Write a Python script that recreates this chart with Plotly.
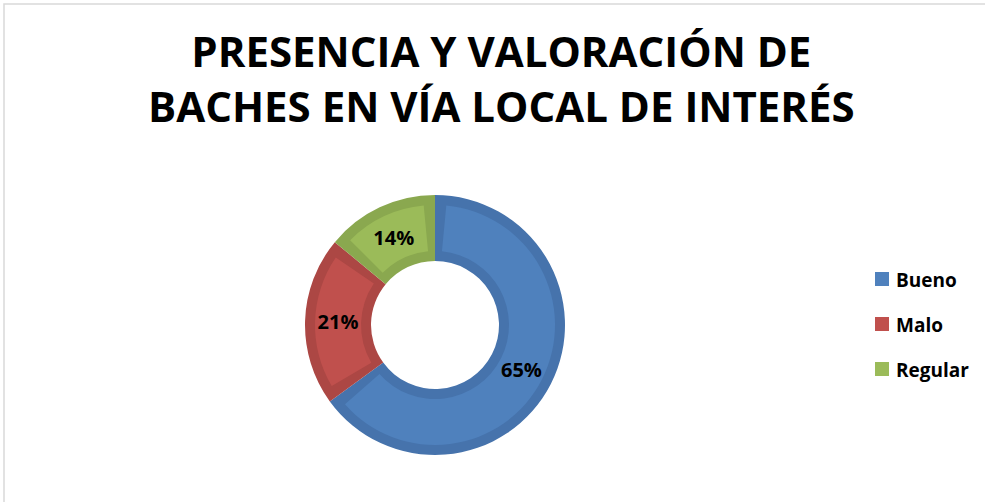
import plotly.graph_objects as go

# Data
categories = ["Bueno", "Malo", "Regular"]
values = [65, 21, 14]
colors = ["#4F81BD", "#C0504D", "#9BBB59"]
edge_colors = ["#4673AC", "#AC4744", "#8AA84F"]
title_lines = ["PRESENCIA Y VALORACIÓN DE", "BACHES EN VÍA LOCAL DE INTERÉS"]

W, H = 985, 502
cx, cy = 435, 325
r_out, r_in, band = 130, 64, 10
gap = 1.5  # value units trimmed from each side of a slice in the light layer

def dom(r):
    return dict(x=[(cx - r) / W, (cx + r) / W], y=[1 - (cy + r) / H, 1 - (cy - r) / H])

# Bottom layer: full slices in the darker edge colour
base = go.Pie(
    labels=categories, values=values, sort=False, direction="clockwise", rotation=0,
    hole=r_in / r_out, marker=dict(colors=edge_colors, line=dict(width=0)),
    textinfo="none", domain=dom(r_out), showlegend=False, hoverinfo="skip",
)

# Middle layer: lighter fill, inset from every edge of its slice
top_vals, top_cols, top_labels = [], [], []
for i, (cat, v, col) in enumerate(zip(categories, values, colors)):
    top_vals += [gap, v - 2 * gap, gap]
    top_cols += ["rgba(0,0,0,0)", col, "rgba(0,0,0,0)"]
    top_labels += [f"_g{i}a", cat, f"_g{i}b"]

r_top = r_out - band
face = go.Pie(
    labels=top_labels, values=top_vals, sort=False, direction="clockwise", rotation=0,
    hole=(r_in + band) / r_top, marker=dict(colors=top_cols, line=dict(width=0)),
    textinfo="none", domain=dom(r_top), showlegend=False, hoverinfo="skip",
)

# Top layer: transparent copy of the full slices carrying the percentage labels
labels_layer = go.Pie(
    labels=categories, values=values, sort=False, direction="clockwise", rotation=0,
    hole=r_in / r_out,
    marker=dict(colors=["rgba(0,0,0,0)"] * len(values), line=dict(width=0)),
    texttemplate="%{percent:.0%}", textposition="inside",
    insidetextorientation="horizontal",
    textfont=dict(family="Open Sans", size=20, color="black", weight="bold"),
    domain=dom(r_out), showlegend=False, hoverinfo="label+percent",
)

fig = go.Figure([base, face, labels_layer])

# Title and custom legend (square swatch + label), built from the lists above
annotations = [dict(
    text="<br>".join(title_lines), xref="paper", yref="paper",
    x=501 / W, y=1 - 78 / H, xanchor="center", yanchor="middle",
    showarrow=False,
    font=dict(family="Open Sans", size=42, color="black", weight="bold"),
)]
shapes = [dict(type="rect", xref="paper", yref="paper",
               x0=4 / W, x1=1.02, y0=-0.02, y1=1 - 4 / H,
               line=dict(color="#D9D9D9", width=1.5))]
leg_x, leg_y0, leg_dy, sq = 875, 279, 45, 14
for i, (cat, col) in enumerate(zip(categories, colors)):
    yc = leg_y0 + i * leg_dy
    shapes.append(dict(type="rect", xref="paper", yref="paper",
                       x0=leg_x / W, x1=(leg_x + sq) / W,
                       y0=1 - (yc + sq / 2) / H, y1=1 - (yc - sq / 2) / H,
                       fillcolor=col, line=dict(width=0)))
    annotations.append(dict(
        text=cat, xref="paper", yref="paper",
        x=(leg_x + sq + 5) / W, y=1 - (yc + 1) / H,
        xanchor="left", yanchor="middle", showarrow=False,
        font=dict(family="Open Sans", size=19, color="black", weight="bold"),
    ))

fig.update_layout(
    width=W, height=H,
    margin=dict(l=0, r=0, t=0, b=0),
    paper_bgcolor="white",
    showlegend=False,
    annotations=annotations,
    shapes=shapes,
)

fig.write_html("out.html", config={"displayModeBar": False},
               post_script="document.body.style.margin='0';")
